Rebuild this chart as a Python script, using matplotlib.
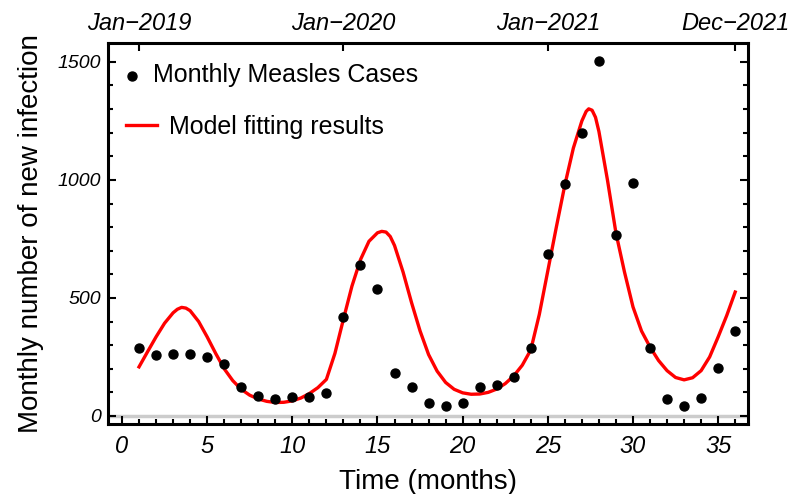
import matplotlib.pyplot as plt
import numpy as np

# monthly measles cases, month 1 = Jan-2019
months = np.arange(1, 37)
cases = [288, 258, 263, 263, 250, 220, 123, 85, 72, 80, 80, 97,
         420, 640, 538, 182, 123, 55, 42, 55, 123, 131, 165, 288,
         686, 983, 1199, 1504, 767, 987, 288, 72, 42, 76, 203, 360]

# fitted model curve
fit_t = [1.0, 1.5, 2.0, 2.5, 3.0, 3.25, 3.5, 3.75, 4.0, 4.5, 5.0, 5.5,
         6.0, 6.5, 7.0, 7.5, 8.0, 8.5, 9.0, 9.5, 10.0, 10.5, 11.0, 11.5,
         12.0, 12.5, 13.0, 13.5, 14.0, 14.5, 15.0, 15.25, 15.5, 15.75, 16.0, 16.5,
         17.0, 17.5, 18.0, 18.5, 19.0, 19.5, 20.0, 20.5, 21.0, 21.5, 22.0, 22.5,
         23.0, 23.5, 24.0, 24.5, 25.0, 25.5, 26.0, 26.5, 27.0, 27.25, 27.4, 27.6,
         27.8, 28.0, 28.5, 29.0, 29.5, 30.0, 30.5, 31.0, 31.5, 32.0, 32.5, 33.0,
         33.5, 34.0, 34.5, 35.0, 35.5, 36.0]
fit_y = [208, 272, 335, 393, 437, 452, 460, 457, 446, 400, 335, 265,
         200, 150, 113, 88, 72, 62, 57, 58, 64, 76, 95, 120,
         155, 265, 410, 550, 662, 740, 776, 782, 779, 760, 722, 610,
         480, 360, 260, 190, 142, 113, 98, 92, 93, 100, 114, 137,
         170, 215, 280, 430, 615, 800, 979, 1135, 1250, 1290, 1301, 1295,
         1265, 1205, 1000, 775, 610, 462, 360, 292, 235, 192, 163, 153,
         162, 192, 250, 335, 425, 525]

top_ticks = [1, 13, 25, 36]
top_labels = ['Jan\u22122019', 'Jan\u22122020', 'Jan\u22122021', 'Dec\u22122021']

plt.rcParams['font.family'] = ['Liberation Sans', 'DejaVu Sans']

fig = plt.figure(figsize=(7.92, 4.94), dpi=100)
ax = fig.add_axes([0.1364, 0.1417, 0.808, 0.7713])

ax.axhline(0, color='#cccccc', lw=2.5, zorder=1)
dots = ax.scatter(months, cases, s=42, color='black', zorder=3,
                  label='Monthly Measles Cases')
line, = ax.plot(fit_t, fit_y, color='red', lw=2.4, zorder=2,
                label='Model fitting results')

ax.set_xlim(-0.82, 36.75)
ax.set_ylim(-34, 1580)
ax.set_xticks(np.arange(0, 36, 5))
ax.set_xticks(np.arange(0, 37, 1), minor=True)
ax.set_yticks([0, 500, 1000, 1500])
ax.set_yticks(np.arange(0, 1600, 100), minor=True)
ax.tick_params(which='both', direction='in', top=False, right=True, width=1.5)
ax.tick_params(which='major', length=6)
ax.tick_params(which='minor', length=3.5)
ax.tick_params(axis='x', labelsize=17, pad=8)
ax.tick_params(axis='y', labelsize=14, pad=5)
for lab in ax.get_xticklabels() + ax.get_yticklabels():
    lab.set_fontstyle('italic')
for sp in ax.spines.values():
    sp.set_linewidth(2.2)

ax.set_xlabel('Time (months)', fontsize=20)
ax.xaxis.set_label_coords(0.5, -0.117)
ax.set_ylabel('Monthly number of new infection', fontsize=20)
ax.yaxis.set_label_coords(-0.1, 0.5)

# top date axis
top = ax.twiny()
top.set_xlim(ax.get_xlim())
top.set_xticks(top_ticks)
top.set_xticklabels(top_labels)
top.tick_params(direction='in', length=6, width=1.5, labelsize=17, pad=6)
for lab in top.get_xticklabels():
    lab.set_fontstyle('italic')
for sp in top.spines.values():
    sp.set_visible(False)

leg1 = ax.legend(handles=[dots], loc='upper left', bbox_to_anchor=(0.0, 0.993),
                 frameon=False, fontsize=18, handlelength=0.52, handletextpad=0.58,
                 borderaxespad=0.3)
ax.add_artist(leg1)
ax.legend(handles=[line], loc='upper left', bbox_to_anchor=(0.0, 0.858),
          frameon=False, fontsize=18, handlelength=1.26, handletextpad=0.48,
          borderaxespad=0.3)

fig.savefig('out.png', dpi=100)
